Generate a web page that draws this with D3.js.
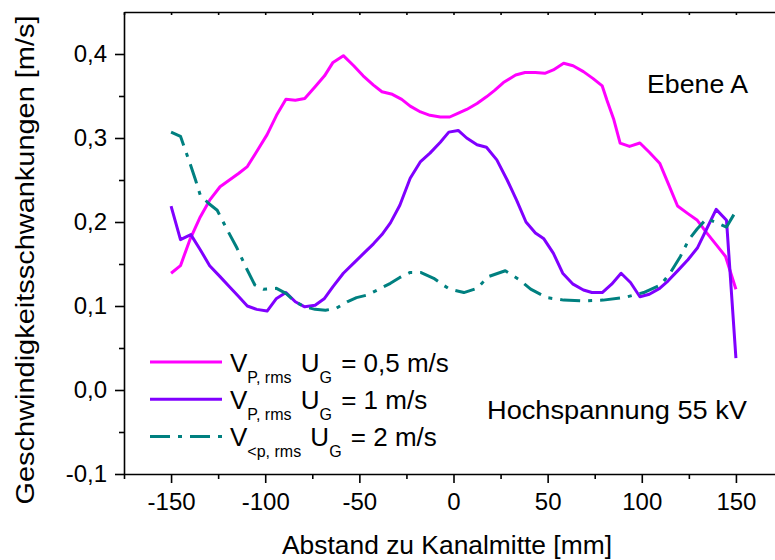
<!DOCTYPE html>
<html>
<head>
<meta charset="utf-8">
<script src="https://cdn.jsdelivr.net/npm/d3@7"></script>
<style>
  body { margin: 0; background: #fff; }
  text { font-family: Arial, "Liberation Sans", sans-serif; fill: #000; }
</style>
</head>
<body>
<div id="chart"></div>
<script>
// values (x in mm, v in m/s)
const magentaX = [-150, -145, -140, -134.5, -129.5, -124, -119, -114, -109.5, -104.5, -99, -94, -89, -84, -79, -73.5, -68.5, -64, -58.5, -53, -48, -42.5, -38, -32.5, -27.5, -23, -17.5, -12.5, -7, -2, 2, 7, 12.5, 17.5, 22, 26.5, 33, 38, 43.5, 48.5, 53, 58.5, 63.5, 69, 74, 79, 81.5, 85, 88.5, 93.5, 99, 104, 109.5, 114, 119, 124.5, 129.5, 134.5, 139.5, 144.5, 150];
const magentaV = [0.139, 0.148, 0.179, 0.206, 0.226, 0.242, 0.250, 0.258, 0.266, 0.284, 0.304, 0.327, 0.346, 0.345, 0.347, 0.361, 0.374, 0.390, 0.398, 0.386, 0.374, 0.363, 0.355, 0.352, 0.346, 0.338, 0.331, 0.327, 0.325, 0.325, 0.329, 0.334, 0.341, 0.349, 0.357, 0.366, 0.375, 0.378, 0.378, 0.377, 0.381, 0.389, 0.386, 0.379, 0.371, 0.362, 0.345, 0.323, 0.294, 0.290, 0.294, 0.283, 0.270, 0.246, 0.219, 0.210, 0.202, 0.187, 0.173, 0.159, 0.120];

const purpleX = [-150, -145, -139.5, -134.5, -129.5, -124, -119, -114, -109.5, -104.5, -99, -94, -89, -84, -79, -73.5, -68.5, -64, -58.5, -53, -48, -42.5, -38, -33.5, -28.5, -23, -17.5, -12.5, -7, -2.5, 2.5, 7, 12.5, 17.5, 23, 28.5, 33.5, 38.5, 43.5, 48, 53, 58, 63.5, 69, 73.5, 79, 84, 89, 94, 99, 104, 109.5, 114, 119.5, 124.5, 129.5, 134.5, 139.5, 145, 150];
const purpleV = [0.219, 0.179, 0.185, 0.167, 0.148, 0.135, 0.123, 0.111, 0.100, 0.096, 0.094, 0.109, 0.116, 0.105, 0.099, 0.101, 0.109, 0.123, 0.139, 0.151, 0.162, 0.174, 0.185, 0.199, 0.220, 0.252, 0.272, 0.282, 0.295, 0.307, 0.309, 0.300, 0.292, 0.289, 0.274, 0.250, 0.226, 0.200, 0.187, 0.180, 0.163, 0.139, 0.126, 0.119, 0.116, 0.116, 0.126, 0.139, 0.128, 0.111, 0.114, 0.121, 0.130, 0.143, 0.155, 0.169, 0.192, 0.215, 0.202, 0.038];

const tealX = [-150, -145, -140, -137, -134.5, -130, -125.5, -120.5, -115, -110, -105.5, -101, -94, -89, -84, -79, -73.5, -68, -62.5, -56.5, -51.5, -46, -40.5, -33.5, -28.5, -23, -17.5, -10.5, -5.5, -2, 5.5, 12.5, 18.5, 27.5, 34.5, 41, 49.5, 58.5, 69, 79.5, 90.5, 101, 110, 115, 120.5, 125, 129.5, 134.5, 140, 145, 150];
const tealV = [0.307, 0.302, 0.270, 0.250, 0.232, 0.222, 0.214, 0.192, 0.169, 0.145, 0.125, 0.120, 0.121, 0.115, 0.105, 0.099, 0.096, 0.095, 0.097, 0.105, 0.110, 0.113, 0.119, 0.127, 0.134, 0.140, 0.140, 0.133, 0.125, 0.120, 0.116, 0.121, 0.135, 0.142, 0.132, 0.120, 0.110, 0.107, 0.106, 0.107, 0.110, 0.116, 0.125, 0.139, 0.159, 0.179, 0.192, 0.204, 0.199, 0.194, 0.213];

const xTicks = [-150, -100, -50, 0, 50, 100, 150];
const xMinorTicks = [-175, -125, -75, -25, 25, 75, 125, 175];
const yTicks = [-0.1, 0.0, 0.1, 0.2, 0.3, 0.4];
const yMinorTicks = [-0.05, 0.05, 0.15, 0.25, 0.35];

const seriesNames = ["0,5 m/s", "1 m/s", "2 m/s"];
const seriesSubs = ["P, rms", "P, rms", "<p, rms"];
const seriesColors = ["#ff00ff", "#8000ff", "#008080"];
const seriesDash = [null, null, "20,8,4,8"];

margin = ({top: 12, right: 0, bottom: 86, left: 124});
visWidth = 659;
visHeight = 462;

function drawChart() {
  const svg = d3.select("#chart")
    .append("svg")
    .attr("width", 775)
    .attr("height", 560);

  const g = svg.append("g")
    .attr("transform", `translate(${margin.left}, ${margin.top})`);

  const x = d3.scaleLinear().domain([-175, 175]).range([0, visWidth]);
  const y = d3.scaleLinear().domain([-0.1, 0.45]).range([visHeight, 0]);

  const fmtY = d => d.toFixed(1).replace(".", ",").replace("\u2212", "-");

  // bottom axis
  g.append("g")
    .attr("transform", `translate(0, ${visHeight})`)
    .call(d3.axisBottom(x).tickValues(xTicks).tickFormat(d => String(d)).tickSize(9).tickSizeOuter(0).tickPadding(10))
    .call(a => a.selectAll("text").attr("font-size", 24));
  g.append("g")
    .attr("transform", `translate(0, ${visHeight})`)
    .call(d3.axisBottom(x).tickValues(xMinorTicks).tickFormat("").tickSize(5))
    .call(a => a.select(".domain").remove());

  // top axis, ticks inward
  g.append("g")
    .call(d3.axisTop(x).tickValues(xTicks.concat(xMinorTicks)).tickFormat("").tickSizeInner(-3).tickSizeOuter(0));

  // left axis
  g.append("g")
    .call(d3.axisLeft(y).tickValues(yTicks).tickFormat(fmtY).tickSize(9).tickSizeOuter(0).tickPadding(8))
    .call(a => a.selectAll("text").attr("font-size", 24));
  g.append("g")
    .call(d3.axisLeft(y).tickValues(yMinorTicks).tickFormat("").tickSize(5))
    .call(a => a.select(".domain").remove());

  svg.selectAll(".domain, .tick line").attr("stroke", "#000").attr("stroke-width", 1.6);
  svg.selectAll(".tick text").attr("fill", "#000").attr("font-family", "Arial, 'Liberation Sans', sans-serif");

  // lines
  const line = d3.line().x(d => x(d[0])).y(d => y(d[1]));
  const series = [
    d3.zip(magentaX, magentaV),
    d3.zip(purpleX, purpleV),
    d3.zip(tealX, tealV)
  ];
  g.selectAll("path.series")
    .data(series)
    .join("path")
    .attr("class", "series")
    .attr("d", line)
    .attr("fill", "none")
    .attr("stroke", (d, i) => seriesColors[i])
    .attr("stroke-width", 3)
    .attr("stroke-linejoin", "round")
    .attr("stroke-dasharray", (d, i) => seriesDash[i]);

  // axis titles
  svg.append("text")
    .attr("x", 447)
    .attr("y", 554)
    .attr("text-anchor", "middle")
    .attr("font-size", 26)
    .attr("textLength", 330)
    .attr("lengthAdjust", "spacingAndGlyphs")
    .text("Abstand zu Kanalmitte [mm]");

  svg.append("text")
    .attr("transform", "translate(34, 260) rotate(-90)")
    .attr("text-anchor", "middle")
    .attr("font-size", 26)
    .attr("textLength", 489)
    .attr("lengthAdjust", "spacingAndGlyphs")
    .text("Geschwindigkeitsschwankungen [m/s]");

  // annotations
  svg.append("text")
    .attr("x", 647).attr("y", 93)
    .attr("font-size", 26)
    .attr("textLength", 101)
    .attr("lengthAdjust", "spacingAndGlyphs")
    .text("Ebene A");

  svg.append("text")
    .attr("x", 487).attr("y", 419)
    .attr("font-size", 26)
    .attr("textLength", 260)
    .attr("lengthAdjust", "spacingAndGlyphs")
    .text("Hochspannung 55 kV");

  // legend
  const legend = svg.append("g").attr("transform", "translate(150, 362)");
  seriesNames.forEach((name, i) => {
    const row = legend.append("g").attr("transform", `translate(0, ${i * 37.2})`);
    row.append("line")
      .attr("x1", 0).attr("x2", 72)
      .attr("stroke", seriesColors[i])
      .attr("stroke-width", 3)
      .attr("stroke-dasharray", seriesDash[i]);
    const t = row.append("text").attr("x", 80).attr("y", 9.5).attr("font-size", 26);
    t.append("tspan").text("V");
    t.append("tspan").attr("font-size", 16).attr("dy", 11).text(seriesSubs[i]);
    t.append("tspan").attr("dy", -11).attr("dx", 2).text(" U");
    t.append("tspan").attr("font-size", 16).attr("dy", 11).text("G");
    t.append("tspan").attr("dy", -11).attr("dx", 2).text(" = " + name);
  });
}

window.onload = drawChart;
</script>
</body>
</html>
